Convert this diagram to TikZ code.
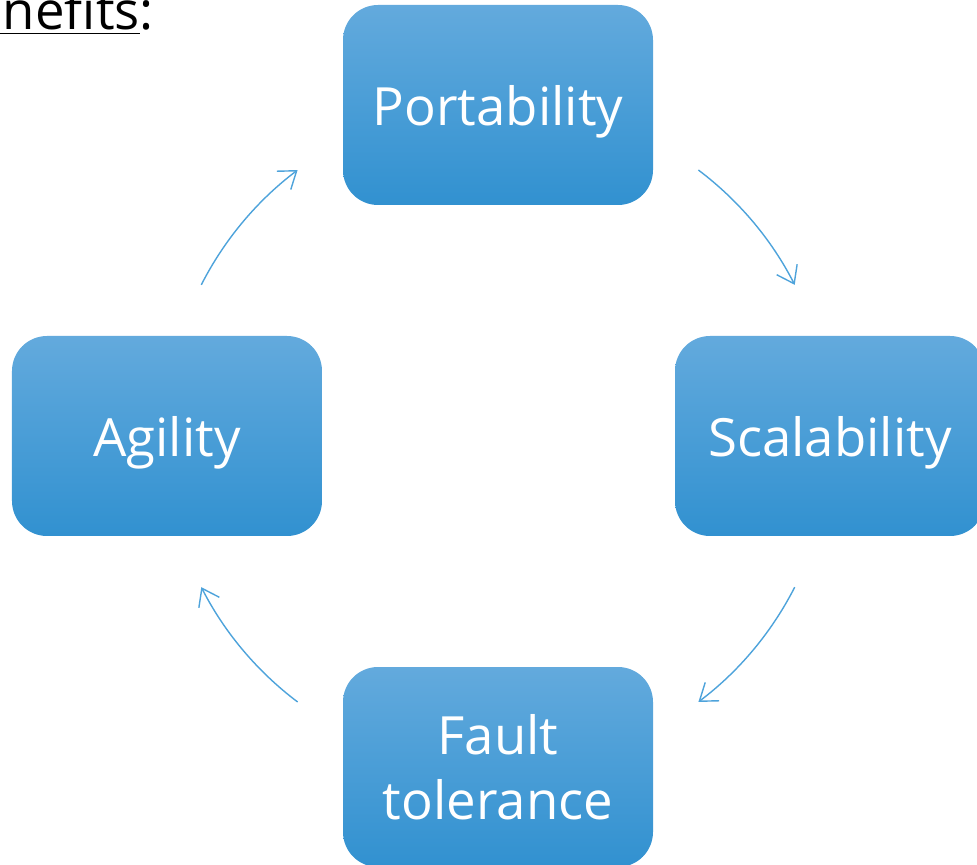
\documentclass[tikz,border=0pt]{standalone}
\usepackage{fontspec}
\setmainfont{Open Sans}
\usetikzlibrary{arrows.meta}

\definecolor{boxtop}{RGB}{99,170,221}
\definecolor{boxbot}{RGB}{49,145,208}
\definecolor{arrowblue}{RGB}{78,163,219}

\tikzset{
  benefit/.style={rounded corners=0.7cm, minimum width=6.2cm, minimum height=4cm,
    top color=boxtop, bottom color=boxbot, text=white, align=center,
    font=\fontsize{30}{37}\selectfont},
  oneline/.style={text height=0.82cm, text depth=0cm},
  cycarrow/.style={draw=arrowblue, line width=0.8pt, -{Straight Barb[length=3.2mm,width=4.6mm]}}
}

\begin{document}
\begin{tikzpicture}
  \useasboundingbox (0,0) rectangle (19.54,-17.3);
  \clip (0,0) rectangle (19.54,-17.3);
  \coordinate (C) at (9.96,-8.72);
  \node[anchor=base east, font=\fontsize{30}{37}\selectfont] (title) at (3.2,-0.6) {\underline{Benefits}:};
  \node[benefit,oneline] (port) at (9.96,-2.1) {Portability};
  \node[benefit,oneline] (scal) at (16.6,-8.72) {Scalability};
  \node[benefit] (fault) at (9.96,-15.34) {Fault\\tolerance};
  \node[benefit,oneline] (agil) at (3.34,-8.72) {Agility};
  % arrows round the circle
  \draw[cycarrow] ([shift={(53:6.66)}]C) arc[start angle=53, end angle=27, radius=6.66];
  \draw[cycarrow] ([shift={(-27:6.66)}]C) arc[start angle=-27, end angle=-53, radius=6.66];
  \draw[cycarrow] ([shift={(-127:6.66)}]C) arc[start angle=-127, end angle=-153, radius=6.66];
  \draw[cycarrow] ([shift={(153:6.66)}]C) arc[start angle=153, end angle=127, radius=6.66];
\end{tikzpicture}
\end{document}
